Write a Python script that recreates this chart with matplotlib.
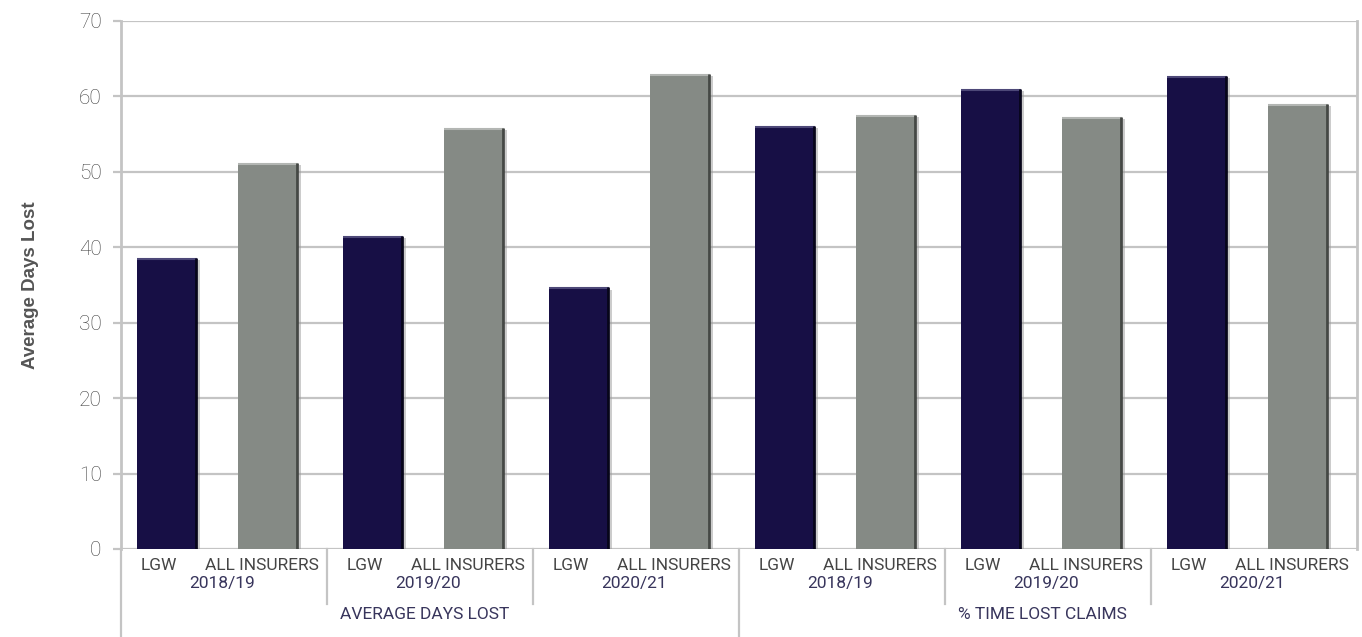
import numpy as np
import matplotlib.pyplot as plt
from matplotlib.transforms import blended_transform_factory


### Data
groups = ["AVERAGE DAYS LOST", "% TIME LOST CLAIMS"]
years = ["2018/19", "2019/20", "2020/21"]
series = ["LGW", "ALL INSURERS"]
lgw = [38.6, 41.5, 34.7, 56.1, 61.0, 62.7]
all_insurers = [51.2, 55.8, 63.0, 57.6, 57.3, 59.0]
yticks = [0, 10, 20, 30, 40, 50, 60, 70]

navy = "#170f45"
grey = "#858a85"
line_grey = "#c4c4c4"

plt.rcParams["font.family"] = ["Roboto", "DejaVu Sans"]

fig = plt.figure(figsize=(13.62, 6.37), dpi=100)
ax = fig.add_axes([121 / 1362, 1 - 549 / 637, 1236 / 1362, 528 / 637])

n = len(lgw)
x_lgw = np.arange(n) * 2 + 0.45
x_all = np.arange(n) * 2 + 1.43
w = 0.58

### Bars, with a thin bevel (light top edge, dark right edge)
for xs, vals, col, hi, lo in [(x_lgw, lgw, navy, "#4d4878", "#07051a"),
                              (x_all, all_insurers, grey, "#b3b6b3", "#454845")]:
    ax.bar(xs, vals, width=w, color=col, zorder=3)
    vals = np.array(vals)
    ax.hlines(vals - 0.15, xs - w / 2, xs + w / 2, color=hi, lw=1.5, zorder=4)
    ax.vlines(xs + w / 2 - 0.01, 0, vals, color=lo, lw=2, zorder=4)
    ax.vlines(xs + w / 2 + 0.015, 0, vals - 0.3, color="#9a9a9a", lw=1.2, alpha=0.6, zorder=2)

ax.set_xlim(0, 2 * n)
ax.set_ylim(0, 70)
ax.set_yticks(yticks)
ax.yaxis.grid(True, color=line_grey, lw=1.6, zorder=0)
ax.set_xticks([])
ax.tick_params(axis="y", length=6, width=1.6, color=line_grey, pad=8,
               labelsize=15, labelcolor="#404040")
for lab in ax.get_yticklabels():
    lab.set_fontweight("light")

for side in ["top", "bottom"]:
    ax.spines[side].set_visible(False)
for side in ["left", "right"]:
    ax.spines[side].set_color(line_grey)
    ax.spines[side].set_linewidth(2)

ax.set_ylabel("Average Days Lost", fontsize=13.5, fontweight="bold", color="#555555",
              family=["Liberation Sans", "DejaVu Sans"])
ax.yaxis.set_label_coords(-0.066, 0.5)

### Category axis: series labels, years, groups and separators
lab_kw = dict(ha="center", va="center", fontsize=12.5)
trans = blended_transform_factory(ax.transData, ax.transAxes)
for i in range(n):
    ax.text(2 * i + 0.37, -0.032, series[0], transform=trans, color="#454545", **lab_kw)
    ax.text(2 * i + 1.37, -0.032, series[1], transform=trans, color="#454545", **lab_kw)
    ax.text(2 * i + 0.98, -0.066, years[i % 3], transform=trans, color="#38355c", **lab_kw)
for g, name in enumerate(groups):
    ax.text(6 * g + 2.95, -0.124, name, transform=trans, color="#38355c", **lab_kw)

for xs in [2, 4, 8, 10]:
    ax.plot([xs, xs], [0, -0.105], transform=trans, color=line_grey, lw=1.6, clip_on=False)
for xs in [0, 6]:
    ax.plot([xs, xs], [0, -0.17], transform=trans, color=line_grey, lw=1.6, clip_on=False)

fig.savefig("out.png", dpi=100)
